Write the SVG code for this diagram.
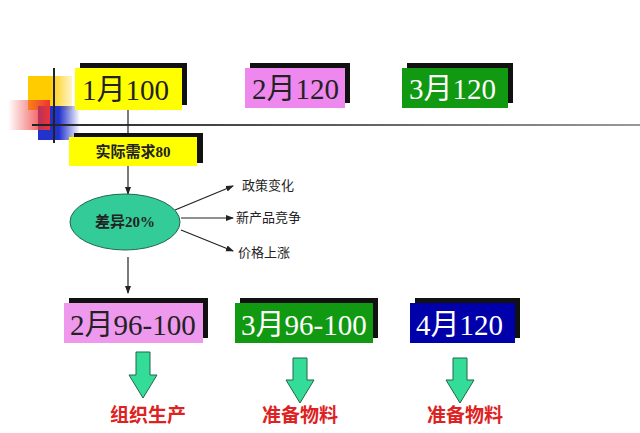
<svg xmlns="http://www.w3.org/2000/svg" width="640" height="433" viewBox="0 0 640 433">
<defs>
<style>
.sh{fill:#111}
.big{font-family:"Liberation Serif","Noto Sans CJK SC",serif;font-size:29px}
.sm{font-family:"Liberation Serif","Noto Sans CJK SC",serif;font-size:13px;fill:#222}
.bold{font-family:"Liberation Serif","Noto Sans CJK SC",serif;font-size:15px;font-weight:bold;fill:#222}
.red{font-family:"Noto Sans CJK SC",sans-serif;font-size:19px;font-weight:bold;fill:#d22}
.ln{stroke:#222;stroke-width:1.2;fill:none}
.ba{fill:#33dd99;stroke:#226644;stroke-width:1}
</style>
<marker id="ar" markerWidth="8" markerHeight="8" refX="7" refY="4" orient="auto" markerUnits="userSpaceOnUse"><path d="M0,1 L8,4 L0,7 z" fill="#222"/></marker>
<linearGradient id="hl" x1="0" x2="1"><stop offset="0" stop-color="#222"/><stop offset="1" stop-color="#999"/></linearGradient>
<linearGradient id="rg" x1="1" x2="0"><stop offset="0" stop-color="#e33"/><stop offset="1" stop-color="#e33" stop-opacity="0"/></linearGradient>
<linearGradient id="bg" x1="0" x2="1"><stop offset="0.5" stop-color="#2233cc"/><stop offset="1" stop-color="#2233cc" stop-opacity="0"/></linearGradient>
<linearGradient id="yg" x1="0" x2="1"><stop offset="0.5" stop-color="#ffcc00"/><stop offset="1" stop-color="#ffcc00" stop-opacity="0.2"/></linearGradient>
</defs>
<rect width="640" height="433" fill="#fff"/>
<g id="decor">
<rect x="28" y="76" width="44" height="34" fill="url(#yg)"/>
<rect x="38" y="106" width="42" height="34" fill="url(#bg)"/>
<rect x="8" y="100" width="42" height="30" fill="url(#rg)"/>
<rect x="32" y="124" width="608" height="2" fill="url(#hl)"/>
<rect x="53" y="68" width="2" height="75" fill="#222"/>
</g>
<g id="connectors">
<line class="ln" x1="128" y1="110" x2="128" y2="134"/>
<line class="ln" x1="128" y1="166" x2="128" y2="194" marker-end="url(#ar)"/>
<line class="ln" x1="175" y1="210" x2="233" y2="186" marker-end="url(#ar)"/>
<line class="ln" x1="181" y1="218" x2="233" y2="218" marker-end="url(#ar)"/>
<line class="ln" x1="181" y1="230" x2="233" y2="251" marker-end="url(#ar)"/>
<line class="ln" x1="128" y1="257" x2="128" y2="293" marker-end="url(#ar)"/>
</g>
<g id="n1"><rect class="sh" x="80" y="63" width="107" height="42"/><rect x="75" y="68" width="107" height="42" fill="#ffff00"/><text class="big" x="82" y="100" fill="#222">1月100</text></g>
<g id="n2"><rect class="sh" x="250" y="63" width="100" height="40"/><rect x="245" y="68" width="100" height="40" fill="#ee88ee"/><text class="big" x="252" y="99" fill="#222">2月120</text></g>
<g id="n3"><rect class="sh" x="407" y="63" width="106" height="40"/><rect x="402" y="68" width="106" height="40" fill="#119911"/><text class="big" x="409" y="99" fill="#fff">3月120</text></g>
<g id="n4"><rect class="sh" x="74" y="133" width="129" height="30"/><rect x="69" y="137" width="128" height="29" fill="#ffff00"/><text class="bold" x="133" y="157" text-anchor="middle">实际需求80</text></g>
<g id="n5"><ellipse cx="125" cy="222" rx="55" ry="28" fill="#33cc99" stroke="#226644"/><text class="bold" x="125" y="227" text-anchor="middle">差异20%</text></g>
<text class="sm" x="242" y="190">政策变化</text>
<text class="sm" x="236" y="222">新产品竞争</text>
<text class="sm" x="238" y="257">价格上涨</text>
<g id="n6"><rect class="sh" x="69" y="298" width="139" height="40"/><rect x="64" y="303" width="139" height="40" fill="#ee99ee"/><text class="big" x="70" y="335" fill="#222">2月96-100</text></g>
<g id="n7"><rect class="sh" x="240" y="298" width="138" height="40"/><rect x="235" y="303" width="138" height="40" fill="#119911"/><text class="big" x="241" y="335" fill="#fff">3月96-100</text></g>
<g id="n8"><rect class="sh" x="415" y="298" width="105" height="40"/><rect x="410" y="303" width="105" height="40" fill="#0000aa"/><text class="big" x="416" y="335" fill="#fff">4月120</text></g>
<g id="arrows">
<path class="ba" d="M136,352 H150 V375 H157 L143,398 L129,375 H136 Z"/>
<path class="ba" d="M293,358 H307 V380 H314 L300,403 L286,380 H293 Z"/>
<path class="ba" d="M453,358 H467 V380 H474 L460,403 L446,380 H453 Z"/>
</g>
<text class="red" x="148" y="422" text-anchor="middle">组织生产</text>
<text class="red" x="300" y="422" text-anchor="middle">准备物料</text>
<text class="red" x="465" y="422" text-anchor="middle">准备物料</text>
</svg>
